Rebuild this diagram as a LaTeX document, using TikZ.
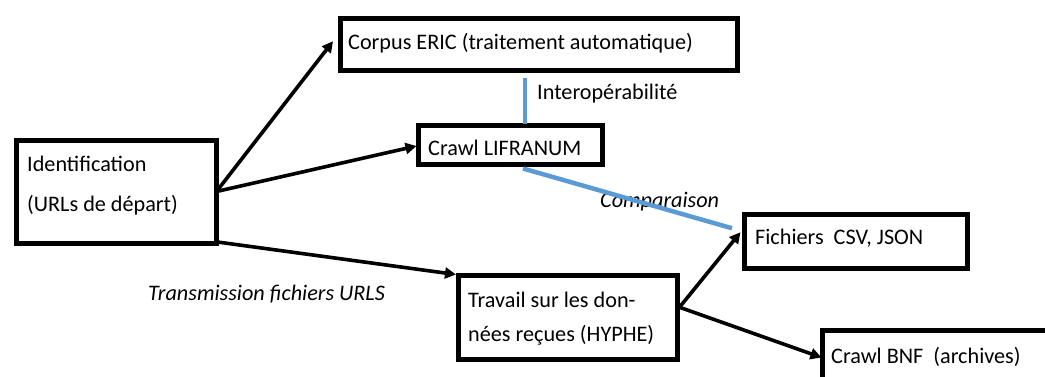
\documentclass[tikz,border=0pt]{standalone}
\usepackage{fontspec}
\setmainfont{Carlito}
\usetikzlibrary{arrows.meta,calc}
\definecolor{linkblue}{HTML}{5B9BD5}
\begin{document}
\begin{tikzpicture}[x=1pt,y=-1pt,
  box/.style={draw=black,line width=5pt,inner sep=0pt,outer sep=0pt,anchor=north west,fill=white},
  lbl/.style={anchor=base west,inner sep=0pt,font=\fontsize{22.2}{26}\selectfont},
  ilbl/.style={lbl,font=\fontsize{22.2}{26}\selectfont\itshape},
  arr/.style={draw=black,line width=3.6pt,-{Triangle[length=11pt,width=11pt]}},
  link/.style={draw=linkblue,line width=4.5pt}]
\useasboundingbox (0,0) rectangle (1045,376);
% boxes
\node[box,minimum width=200pt,minimum height=103pt] (ident) at (16.5,140) {};
\node[box,minimum width=397pt,minimum height=51.5pt] (corpus) at (340,18.5) {};
\node[box,minimum width=184pt,minimum height=39pt] (lifra) at (418.5,125.5) {};
\node[box,minimum width=222.5pt,minimum height=53.5pt] (fich) at (744.5,214.5) {};
\node[box,minimum width=219.5pt,minimum height=83.5pt] (trav) at (458,275.5) {};
\node[box,minimum width=260pt,minimum height=80pt] (bnf) at (822.5,330.5) {};
% texts
\node[lbl] (t1) at (27,171) {Identification};
\node[lbl] (t2) at (27,211) {(URLs de départ)};
\node[lbl] (t3) at (348,49) {Corpus ERIC (traitement automatique)};
\node[lbl] (t4) at (537,99) {Interopérabilité};
\node[lbl] (t5) at (428,155) {Crawl LIFRANUM};
\node[ilbl] (t6) at (600,207) {Comparaison};
\node[lbl] (t7) at (755,244) {Fichiers\ \ CSV, JSON};
\node[ilbl] (t8) at (148,300) {Transmission fichiers URLS};
\node[lbl] (t9) at (468,307) {Travail sur les don-};
\node[lbl] (t10) at (468,341) {nées reçues (HYPHE)};
\node[lbl] (t11) at (831,363) {Crawl BNF\ \ (archives)};
% connectors
\draw[arr] (ident.east) -- ($(corpus.west)+(-7,-3)$);
\draw[arr] (ident.east) -- ($(lifra.west)+(-2,1)$);
\draw[arr] ($(ident.south east)+(1,-1)$) -- ($(trav.north west)+(-2,-1)$);
\draw[arr] ($(trav.east)+(2,-10)$) -- ($(fich.west)+(-4,-9)$);
\draw[arr] ($(trav.east)+(2,-10)$) -- ($(bnf.north west)+(-1,27)$);
\draw[link,line width=4pt] ($(lifra.north)+(14.5,-2)$) -- ($(corpus.south -| lifra.north)+(14.5,8)$);
\draw[link] ($(lifra.south)+(12.5,4)$) -- ($(fich.west)+(-12.5,-13)$);
\end{tikzpicture}
\end{document}
